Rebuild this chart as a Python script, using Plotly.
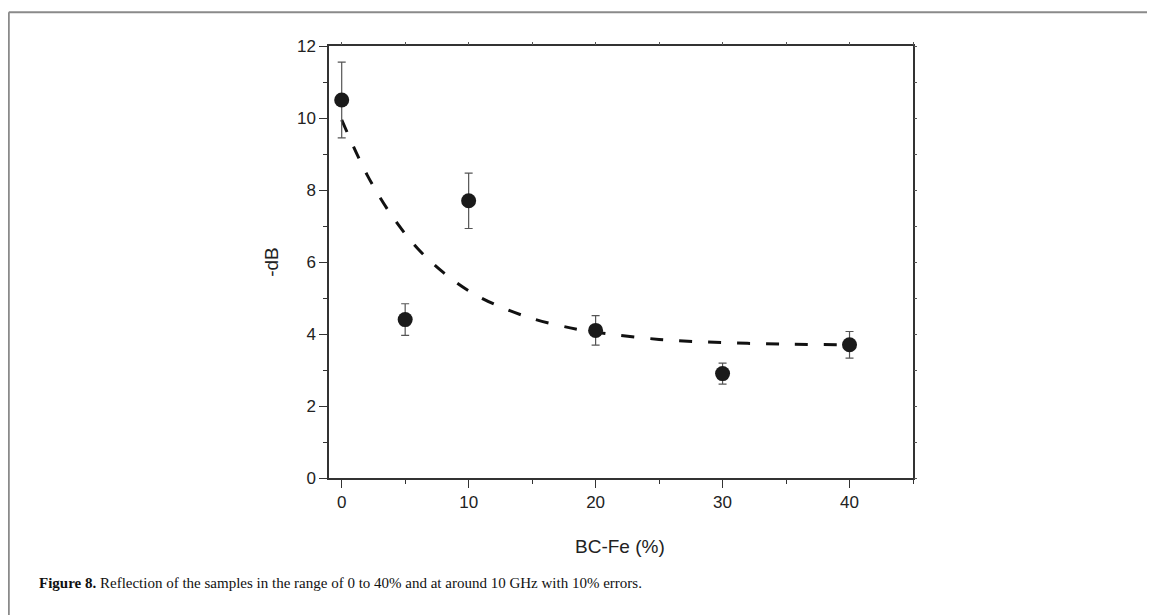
import plotly.graph_objects as go

# Data
bc_fe = [0, 5, 10, 20, 30, 40]
neg_db = [10.5, 4.4, 7.7, 4.1, 2.9, 3.7]
err = [1.05, 0.44, 0.77, 0.41, 0.29, 0.37]

fit_x = [0, 2, 4, 6, 8, 10, 12, 15, 18, 20, 25, 30, 35, 40]
fit_y = [9.95, 8.42, 7.26, 6.37, 5.71, 5.20, 4.83, 4.43, 4.17, 4.05, 3.85, 3.76, 3.72, 3.70]

x_ticks = [0, 10, 20, 30, 40]
y_ticks = [0, 2, 4, 6, 8, 10, 12]
x_range = [-1, 45]
y_range = [0, 12]

# page body has an 8px margin; work in window pixels and shift
OFF = 8
W, H = 1155 - OFF, 615 - OFF
L, R, T, B = 328.5 - OFF, 913 - OFF, 45.7 - OFF, 477.7 - OFF
def px(x): return (x - OFF - L) / (R - L)
def py(y): return (B - (y - OFF)) / (B - T)

fig = go.Figure()
fig.add_trace(go.Scatter(
    x=fit_x, y=fit_y, mode="lines",
    line=dict(color="#111111", width=3, dash="13px,16px", shape="spline"),
    showlegend=False, hoverinfo="skip"))
fig.add_trace(go.Scatter(
    x=bc_fe, y=neg_db, mode="markers",
    marker=dict(size=15, color="#1a1a1a"),
    error_y=dict(type="data", array=err, visible=True, color="#555555", thickness=1.2, width=4),
    showlegend=False))

axis_common = dict(
    showgrid=False, zeroline=False, showline=True, linecolor="#333333", linewidth=1.5,
    mirror=True, ticks="outside", ticklen=8, tickwidth=1.2, tickcolor="#333333",
    tickfont=dict(family="Liberation Sans, Arial", size=17, color="#222222"),
)
fig.update_xaxes(range=x_range, tickvals=x_ticks,
                 minor=dict(ticks="outside", dtick=5, tick0=0, ticklen=4, tickcolor="#333333"),
                 **axis_common)
fig.update_yaxes(range=y_range, tickvals=y_ticks,
                 minor=dict(ticks="outside", dtick=1, tick0=0, ticklen=4, tickcolor="#333333"),
                 **axis_common)

fig.update_layout(
    width=W, height=H,
    margin=dict(l=L, r=W - R, t=T, b=H - B, pad=0),
    paper_bgcolor="white", plot_bgcolor="white",
    xaxis2=dict(overlaying="x", side="top", range=x_range, dtick=5, tick0=0,
                ticks="outside", ticklen=3, tickwidth=1, tickcolor="#555555",
                showticklabels=False, showgrid=False, zeroline=False, showline=False),
    yaxis2=dict(overlaying="y", side="right", range=y_range, dtick=1, tick0=0,
                ticks="outside", ticklen=3, tickwidth=1, tickcolor="#555555",
                showticklabels=False, showgrid=False, zeroline=False, showline=False),
    annotations=[
        dict(text="-dB", x=px(271), y=py(262), xref="paper", yref="paper", textangle=-90,
             showarrow=False, font=dict(family="Liberation Sans, Arial", size=19, color="#222222"),
             xanchor="center", yanchor="middle"),
        dict(text="BC-Fe (%)", x=px(620), y=py(546), xref="paper", yref="paper",
             showarrow=False, font=dict(family="Liberation Sans, Arial", size=19, color="#222222"),
             xanchor="center", yanchor="middle"),
        dict(text="<b>Figure 8.</b> Reflection of the samples in the range of 0 to 40% and at around 10 GHz with 10% errors.",
             x=px(36), y=py(583), xref="paper", yref="paper", showarrow=False,
             font=dict(family="Liberation Serif, Times New Roman", size=15, color="#111111"),
             xanchor="left", yanchor="middle"),
    ],
    shapes=[
        dict(type="line", xref="paper", yref="paper", x0=px(8), x1=px(1160), y0=py(12), y1=py(12),
             line=dict(color="#8a8a8a", width=2)),
        dict(type="line", xref="paper", yref="paper", x0=px(8), x1=px(8), y0=py(12), y1=py(620),
             line=dict(color="#8a8a8a", width=2)),
    ],
)
# invisible traces to activate the overlay axes
fig.add_trace(go.Scatter(x=[None], y=[None], xaxis="x2", yaxis="y2", showlegend=False, hoverinfo="skip"))

fig.write_html("out.html")
